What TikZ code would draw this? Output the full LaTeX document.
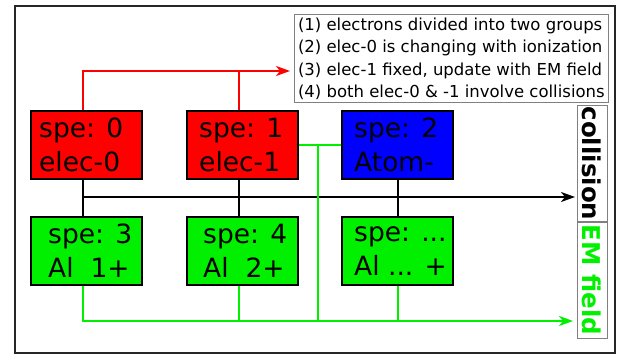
\documentclass[tikz,border=0pt]{standalone}
\usepackage{fontspec}
\setmainfont{DejaVu Sans}
\usetikzlibrary{arrows.meta,calc}
\definecolor{gr}{RGB}{0,240,0}
\definecolor{rd}{RGB}{255,0,0}
\definecolor{bl}{RGB}{0,0,255}
\begin{document}
\begin{tikzpicture}[x=1pt,y=-1pt,
  sbox/.style={draw=black, line width=2pt, minimum width=111pt, minimum height=68pt, inner sep=0pt, anchor=north west},
  stxt/.style={anchor=west, inner sep=0pt, align=left, font=\fontsize{26.5}{34}\selectfont},
  conn/.style={line width=2pt},
  tip/.style={-{Stealth[length=14pt,width=10pt,inset=4pt]}},
  vlab/.style={draw=gray, line width=1pt, rotate=-90, minimum width=116pt, minimum height=30pt, inner sep=0pt, font=\bfseries\fontsize{24.5}{28}\selectfont}
]
\useasboundingbox (0,0) rectangle (620,355);
\draw[line width=2pt, black!85] (15,6) rectangle (615,353);

\node[draw=gray, line width=1pt, anchor=north west, align=left, inner xsep=3.5pt, inner ysep=3pt, font=\fontsize{16.5}{22.5}\selectfont] (leg) at (294,14)
  {(1) electrons divided into two groups\\(2) elec-0 is changing with ionization\\(3) elec-1 fixed, update with EM field\\(4) both elec-0 \& -1 involve collisions};

\node[sbox, fill=rd] (b0) at (30,110) {};
\node[sbox, fill=rd] (b1) at (186,110) {};
\node[sbox, fill=bl] (b2) at (341,110) {};
\node[sbox, fill=gr] (b3) at (30,216) {};
\node[sbox, fill=gr] (b4) at (186,216) {};
\node[sbox, fill=gr] (b5) at (341,216) {};

\node[stxt] (t0) at (39,145) {spe: 0\\elec-0};
\node[stxt] (t1) at (199,145) {spe: 1\\elec-1};
\node[stxt] (t2) at (354,145) {spe: 2\\Atom-};
\node[stxt] (t3) at (48,251) {spe: 3\\Al\ \ 1+};
\node[stxt] (t4) at (203,251) {spe: 4\\Al\ \ 2+};
\node[stxt] (t5) at (354,251) {spe: ...\\Al ... +};

\node[vlab] (col) at (592,163.5) {collision};
\node[vlab, text=gr] (em) at (592,280) {EM field};

\coordinate (rt) at (290,71);
\coordinate (ct) at (575,197);
\coordinate (gt) at (573,321);
\coordinate (b0n) at ([xshift=-3.5pt]b0.north);
\coordinate (b0s) at ([xshift=-3.5pt]b0.south);
\coordinate (b1n) at ([xshift=-3.5pt]b1.north);
\coordinate (b1s) at ([xshift=-3.5pt]b1.south);
\coordinate (b3n) at ([xshift=-3.5pt]b3.north);
\coordinate (b3s) at ([xshift=-3.5pt]b3.south);
\coordinate (b4n) at ([xshift=-3.5pt]b4.north);
\coordinate (b4s) at ([xshift=-3.5pt]b4.south);
\coordinate (gv) at ($(b1.east)!0.45!(b2.west)$);

% red
\draw[conn, rd, tip] (b0n) |- (rt);
\draw[conn, rd] (b1n) -- (b1n |- rt);
% black
\draw[conn] (b0s) -- (b3n);
\draw[conn] (b1s) -- (b4n);
\draw[conn] (b2.south) -- (b5.north);
\draw[conn, tip] (b0s |- ct) -- (ct);
% green
\draw[conn, gr] (b1.east) -- (b2.west);
\draw[conn, gr] (gv) -- (gv |- gt);
\draw[conn, gr] (b4s) -- (b4s |- gt);
\draw[conn, gr] (b5.south) -- (b5.south |- gt);
\draw[conn, gr, tip] (b3s) |- (gt);
\end{tikzpicture}
\end{document}
